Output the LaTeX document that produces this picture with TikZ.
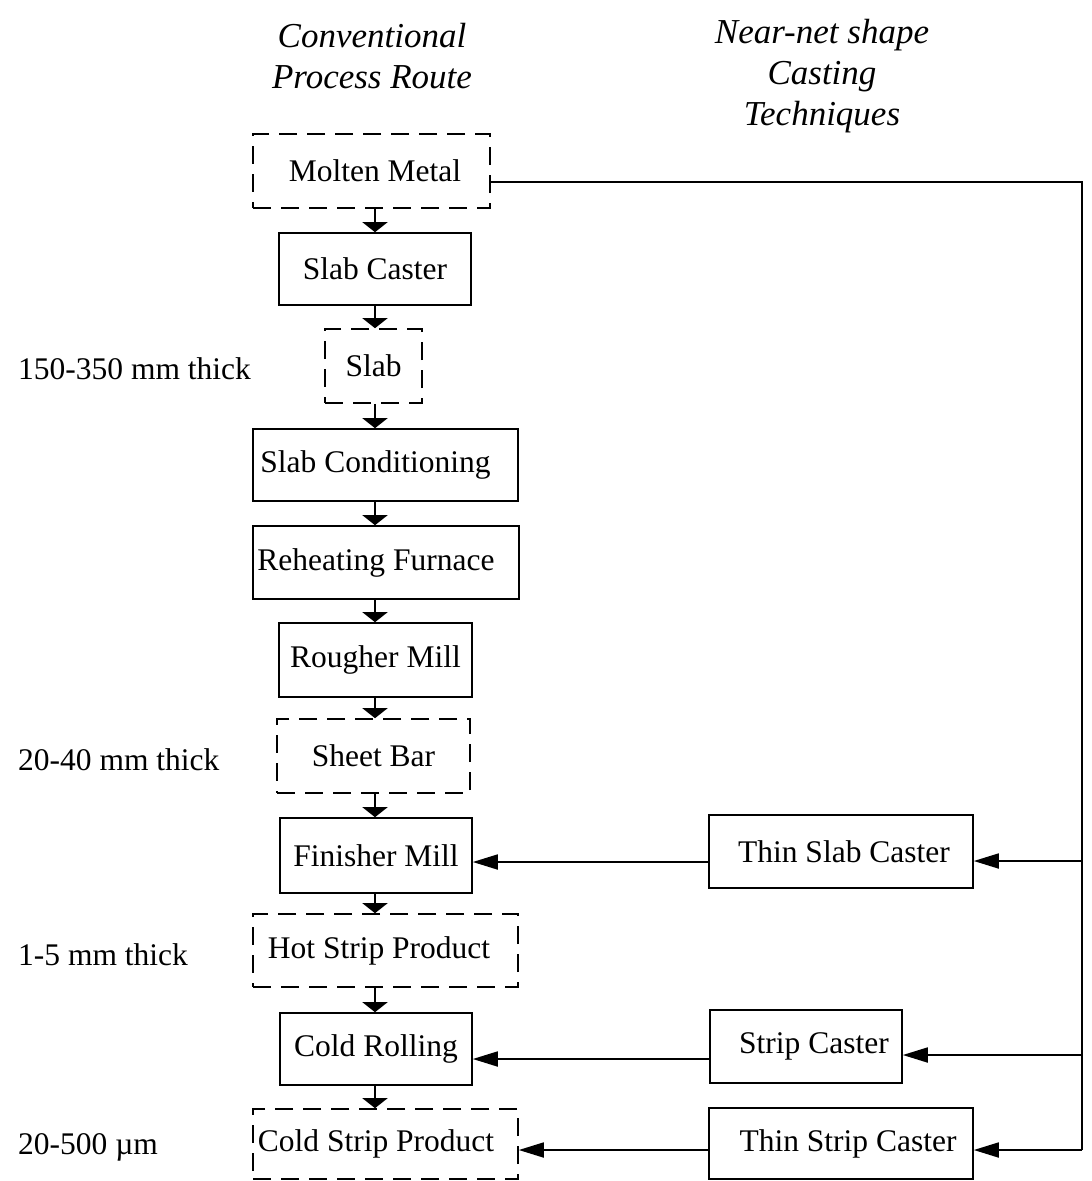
\documentclass[tikz,border=0pt]{standalone}
\usepackage{fontspec}
\setmainfont{Liberation Serif}
\usetikzlibrary{arrows.meta}
\begin{document}
\begin{tikzpicture}[x=1pt,y=-1pt,
  box/.style={draw, line width=1.6pt, inner sep=0pt, font=\fontsize{31.5}{36}\selectfont},
  proc/.style={box},
  prod/.style={box, dash pattern=on 18pt off 10pt},
  lbl/.style={anchor=west, inner sep=0pt, font=\fontsize{31.5}{36}\selectfont},
  head/.style={align=center, inner sep=0pt, font=\fontsize{35}{41}\selectfont\itshape},
  flow/.style={line width=1.4pt, -{Triangle[width=25pt,length=10pt]}},
  side/.style={line width=1.8pt, -{Triangle[width=15pt,length=25pt]}},
  trunk/.style={line width=2pt}]
\useasboundingbox (0,0) rectangle (1092,1181);
% headers
\node[head] (h1) at (372,56) {Conventional\\Process Route};
\node[head] (h2) at (822,76) {Near-net shape\\Casting\\Techniques};
% conventional route
\node[prod, minimum width=237pt, minimum height=74pt] (mm) at (371.5,171) {\hspace*{7pt}Molten Metal};
\node[proc, minimum width=192pt, minimum height=72pt] (sc) at (375,269) {Slab Caster};
\node[prod, minimum width=97pt, minimum height=74pt] (slab) at (373.5,366) {Slab};
\node[proc, minimum width=265pt, minimum height=72pt] (cond) at (385.5,465) {Slab Conditioning\hspace*{20pt}};
\node[proc, minimum width=266pt, minimum height=73pt] (reh) at (386,562.5) {Reheating Furnace\hspace*{20pt}};
\node[proc, minimum width=193pt, minimum height=74pt] (rough) at (375.5,660) {Rougher Mill};
\node[prod, minimum width=193pt, minimum height=74pt] (sheet) at (373.5,756) {Sheet Bar};
\node[proc, minimum width=192pt, minimum height=75pt] (fin) at (376,855.5) {Finisher Mill};
\node[prod, minimum width=265pt, minimum height=73pt] (hot) at (385.5,950.5) {Hot Strip Product\hspace*{13pt}};
\node[proc, minimum width=192pt, minimum height=72pt] (cold) at (376,1049) {Cold Rolling};
\node[prod, minimum width=265pt, minimum height=70pt] (cs) at (385.5,1144) {Cold Strip Product\hspace*{19pt}};
% near-net shape
\node[proc, minimum width=264pt, minimum height=73pt] (tsc) at (841,851.5) {\hspace*{6pt}Thin Slab Caster};
\node[proc, minimum width=192pt, minimum height=73pt] (stc) at (806,1046.5) {\hspace*{16pt}Strip Caster};
\node[proc, minimum width=264pt, minimum height=71pt] (tstc) at (841,1143.5) {\hspace*{14pt}Thin Strip Caster};
% thickness labels
\node[lbl] (l1) at (18,369) {150-350 mm thick};
\node[lbl] (l2) at (18,760) {20-40 mm thick};
\node[lbl] (l3) at (18,955) {1-5 mm thick};
\node[lbl] (l4) at (18,1147) {20-500 µm};
% vertical flow
\foreach \a/\b in {mm/sc, sc/slab, slab/cond, cond/reh, reh/rough, rough/sheet, sheet/fin, fin/hot, hot/cold, cold/cs}
  \draw[flow] (\a.south -| 375,0) -- (\b.north -| 375,0);
% trunk
\coordinate (tt) at (1082,182);
\coordinate (tb) at (1082,1150);
\coordinate (r1) at (0,861);
\coordinate (r2) at (0,1055);
\coordinate (r3) at (0,862);
\coordinate (r4) at (0,1059);
\draw[trunk] (mm.east |- tt) -- (tt) -- (tb);
\draw[side] (tb) -- (tstc.east |- tb);
\draw[side] (tt |- r1) -- (tsc.east |- r1);
\draw[side] (tt |- r2) -- (stc.east |- r2);
% into conventional route
\draw[side] (tsc.west |- r3) -- (fin.east |- r3);
\draw[side] (stc.west |- r4) -- (cold.east |- r4);
\draw[side] (tstc.west |- tb) -- (cs.east |- tb);
\end{tikzpicture}
\end{document}
